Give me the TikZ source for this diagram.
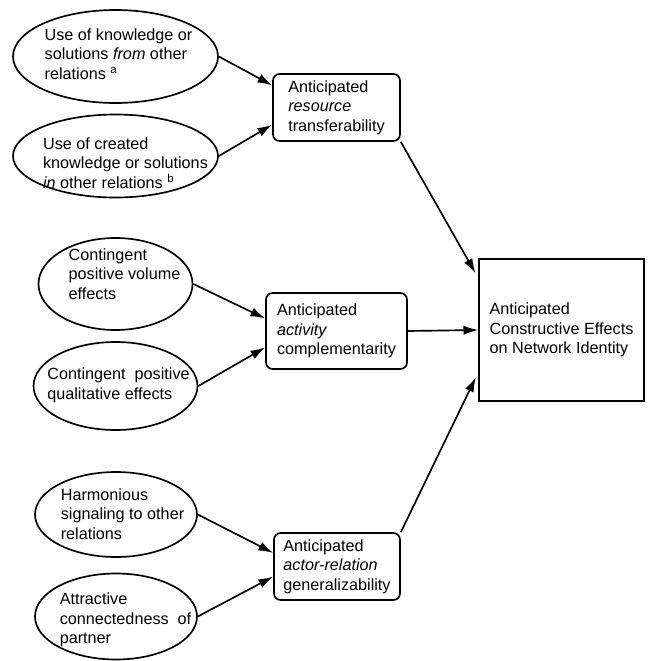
\documentclass[tikz,border=0pt]{standalone}
\usepackage{fontspec}
\setmainfont{Liberation Sans}
\usetikzlibrary{shapes.geometric}
\usetikzlibrary{arrows.meta}

\newcommand{\figfont}{\fontsize{12.15}{14.6}\selectfont}

\begin{document}
\begin{tikzpicture} [x=0.75pt, y=-0.75pt, line width=1.25pt, >={Latex[length=11pt,width=7pt]},
  oval/.style={draw, ellipse, inner sep=0pt},
  ovaltext/.style={align=left, inner sep=0pt, font=\figfont},
  rbox/.style={draw, rounded corners=5pt, align=left, inner sep=0pt, font=\figfont},
  goalbox/.style={draw, align=left, inner sep=0pt, font=\figfont}]
\useasboundingbox (0,0) rectangle (650,661);
\node[oval, minimum width=153.75pt, minimum height=69.75pt] (e1) at (115.5,56.5) {};
\node[oval, minimum width=153.75pt, minimum height=62.25pt] (e2) at (115.5,156) {};
\node[oval, minimum width=115.5pt, minimum height=69pt] (e3) at (115.5,284) {};
\node[oval, minimum width=123pt, minimum height=66pt] (e4) at (115.5,386) {};
\node[oval, minimum width=121.5pt, minimum height=63.75pt] (e5) at (116,514.5) {};
\node[oval, minimum width=121.5pt, minimum height=64.5pt] (e6) at (116,616.5) {};
\node[ovaltext] (e1txt) at (118.5,54) {Use of knowledge or\\solutions \textit{from} other\\relations \textsuperscript{a}};
\node[ovaltext] (e2txt) at (125.5,163) {Use of created\\knowledge or solutions\\\textit{in} other relations \textsuperscript{b}};
\node[ovaltext] (e3txt) at (124.5,274) {Contingent\\positive volume\\effects};
\node[ovaltext] (e4txt) at (118.5,385.5) {Contingent\ \ positive\\qualitative effects};
\node[ovaltext] (e5txt) at (122.5,514) {Harmonious\\signaling to other\\relations};
\node[ovaltext] (e6txt) at (125.5,620) {Attractive\\connectedness\ \ of\\partner};
\node[rbox, minimum width=95.25pt, minimum height=50.25pt] (b1) at (336.5,107.5) {Anticipated\\\textit{resource}\\transferability};
\node[rbox, minimum width=105.75pt, minimum height=57pt] (b2) at (336.5,331) {Anticipated\\\textit{activity}\\complementarity};
\node[rbox, minimum width=94.5pt, minimum height=50.25pt] (b3) at (337,566.5) {Anticipated\\\textit{actor-relation}\\generalizability};
\node[goalbox, minimum width=123.75pt, minimum height=106.5pt] (goal) at (561.5,330) {Anticipated\\Constructive Effects\\on Network Identity};
\foreach \s/\t in {e1/b1.161, e2/b1.195, e3/b2.170, e4/b2.193, e5/b3.168, e6/b3.189}
  \draw[->] (\s.east) -- (\t);
\draw[->] (b2.east) -- (goal.west);
\draw[->, shorten >=4pt] (b1.south east) -- (goal.148);
\draw[->, shorten >=4pt] (b3.north east) -- (goal.207);
\end{tikzpicture}
\end{document}
